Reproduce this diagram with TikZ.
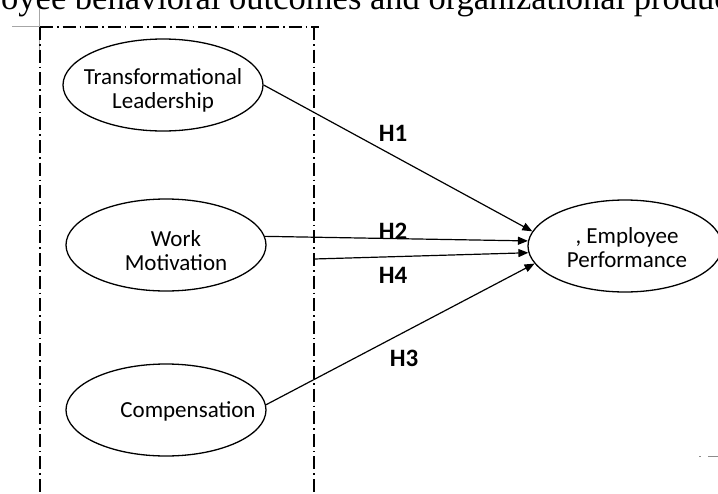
\documentclass[tikz,border=0pt]{standalone}
\usepackage{fontspec}
\setmainfont{Carlito}
\newfontfamily\topserif{Liberation Serif}
\usetikzlibrary{arrows.meta,shapes.geometric}
\begin{document}
\begin{tikzpicture}[x=1pt,y=-1pt,
  construct/.style={draw, ellipse, line width=1.3pt, minimum width=200pt, minimum height=92pt, inner sep=0pt},
  ctext/.style={align=center, font=\fontsize{23}{24}\selectfont, inner sep=0pt},
  hyp/.style={font=\fontsize{25}{28}\selectfont\bfseries, inner sep=0pt},
  link/.style={line width=1.2pt, -{Triangle[length=10pt,width=8pt]}},
  frame/.style={line width=1.5pt, dash pattern=on 13pt off 4pt on 1.6pt off 4pt},
  crop/.style={draw=black!35, line width=0.8pt}
]
\useasboundingbox (0,0) rectangle (718,493);
\clip (0,0) rectangle (718,493);

% clipped heading text at the top
\node[anchor=base west, inner sep=0pt, font=\topserif\fontsize{34.5}{36}\selectfont] (head) at (1,9) {oyee behavioral outcomes and organizational produc};

% crop mark
\coordinate (cmA) at (12,26);
\coordinate (cmB) at (40,26);
\coordinate (cmC) at (39,8);
\coordinate (cmD) at (39,50);
\draw[crop] (cmA) -- (cmB);
\draw[crop] (cmC) -- (cmD);

% dash-dot frame
\coordinate (fTL) at (40,27);
\coordinate (fTR) at (319,27);
\coordinate (fRT) at (314,27);
\coordinate (fBL) at (40,493);
\coordinate (fBR) at (314,493);
\draw[frame] (fTL) -- (fTR);
\draw[frame] (fTL) -- (fBL);
\draw[frame] (fRT) -- (fBR);

% constructs
\node[construct] (tl) at (163,85) {};
\node[construct] (wm) at (166,245) {};
\node[construct] (cp) at (166,410) {};
\node[construct, minimum width=194pt] (ep) at (625,246) {};

\node[ctext] (tltext) at (163,90) {Transformational\\Leadership};
\node[ctext] (wmtext) at (176,251) {Work\\Motivation};
\node[ctext] (cptext) at (188,411) {Compensation};
\node[ctext] (eptext) at (627,248) {, Employee\\Performance};

% paths
\coordinate (h4start) at (314,259);
\draw[link] (tl.east) -- (ep.171);
\draw[link] (wm.5) -- (ep.177.5);
\draw[link] (h4start) -- (ep.184);
\draw[link] (cp.3) -- (ep.191.5);

\node[hyp] (h1) at (393,133) {H1};
\node[hyp] (h2) at (393,231) {H2};
\node[hyp] (h4) at (393,275) {H4};
\node[hyp] (h3) at (404,358) {H3};

% small marks at bottom right
\coordinate (mA) at (699,456);
\coordinate (mB) at (701,456);
\coordinate (mC) at (708,456);
\coordinate (mD) at (718,456);
\draw[draw=black!45, line width=1pt] (mA) -- (mB);
\draw[draw=black!45, line width=1pt] (mC) -- (mD);
\end{tikzpicture}
\end{document}
